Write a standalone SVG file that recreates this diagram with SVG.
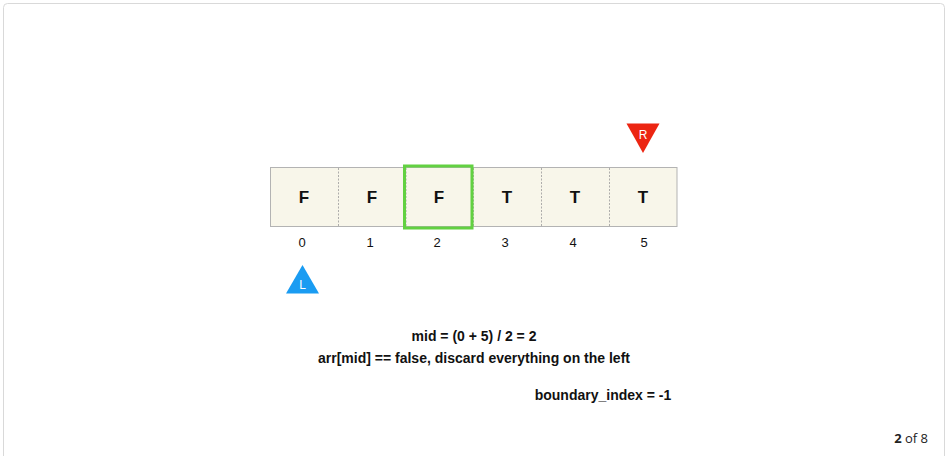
<svg xmlns="http://www.w3.org/2000/svg" width="950" height="456" viewBox="0 0 950 456">
<style>
.cell{fill:#f8f6ea;stroke:none}
.div{stroke:#9a9a9a;stroke-width:0.8;stroke-dasharray:2 1.5}
.val{font-family:"Liberation Sans",Arial,sans-serif;font-size:17px;font-weight:bold;fill:#111;text-anchor:middle}
.idx{font-family:"Liberation Sans",Arial,sans-serif;font-size:13px;fill:#111;text-anchor:middle}
.note{font-family:"Liberation Sans",Arial,sans-serif;font-size:14px;font-weight:bold;fill:#111;text-anchor:middle}
.ptr{font-family:"Liberation Sans",Arial,sans-serif;font-size:12px;fill:#fff;text-anchor:middle}
</style>
<rect x="0" y="0" width="950" height="456" fill="#fff"/>
<rect x="3.5" y="3.5" width="941" height="470" rx="4" fill="#fff" stroke="#d9d9d9" stroke-width="1"/>
<g id="array">
<rect class="cell" x="270.5" y="167.5" width="406.5" height="59" stroke="#b3b3b3" style="stroke:#b3b3b3;stroke-width:1"/>
<line class="div" x1="338.5" y1="168" x2="338.5" y2="226"/>
<line class="div" x1="406" y1="168" x2="406" y2="226"/>
<line class="div" x1="473.5" y1="168" x2="473.5" y2="226"/>
<line class="div" x1="541.5" y1="168" x2="541.5" y2="226"/>
<line class="div" x1="609.5" y1="168" x2="609.5" y2="226"/>
</g>
<g id="cell0"><text class="val" x="304" y="203">F</text><text class="idx" x="302" y="247">0</text></g>
<g id="cell1"><text class="val" x="372" y="203">F</text><text class="idx" x="370" y="247">1</text></g>
<g id="cell2"><text class="val" x="439" y="203">F</text><text class="idx" x="437" y="247">2</text></g>
<g id="cell3"><text class="val" x="507" y="203">T</text><text class="idx" x="505" y="247">3</text></g>
<g id="cell4"><text class="val" x="575" y="203">T</text><text class="idx" x="573" y="247">4</text></g>
<g id="cell5"><text class="val" x="643" y="203">T</text><text class="idx" x="644" y="247">5</text></g>
<g id="mid-highlight"><rect x="404.5" y="166" width="67.5" height="62" fill="none" stroke="#62d141" stroke-width="3"/></g>
<g id="pointer-R"><polygon points="626.5,123.5 659.5,123.5 643,153" fill="#ec2512"/><text class="ptr" x="643" y="139">R</text></g>
<g id="pointer-L"><polygon points="302.5,265 286,293.5 319,293.5" fill="#1a9cf2"/><text class="ptr" x="302.5" y="289">L</text></g>
<g id="notes">
<text class="note" x="474" y="341">mid = (0 + 5) / 2 = 2</text>
<text class="note" x="474" y="363">arr[mid] == false, discard everything on the left</text>
<text class="note" x="603" y="400">boundary_index = -1</text>
</g>
<g id="pager"><text x="928" y="443" font-family="'Open Sans','Liberation Sans',sans-serif" font-size="13" fill="#222" text-anchor="end"><tspan font-weight="bold">2</tspan> of 8</text></g>
</svg>
